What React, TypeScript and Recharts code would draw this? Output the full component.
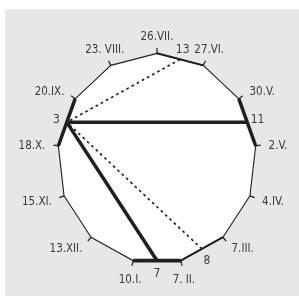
import { PolarAngleAxis, PolarRadiusAxis, Radar, RadarChart } from "recharts"

// corner dates, clockwise from the top
const dates = ["26.VII.", "27.VI.", "30.V.", "2.V.", "4.IV.", "7.III.", "7. II.", "10.I.", "13.XII.", "15.XI.", "18.X.", "20.IX.", "23. VIII."]
// side k runs from dates[k] to dates[k + 1], numbered down from 13
const sideNumbers = [13, 12, 11, 10, 9, 8, 7, 6, 5, 4, 3, 2, 1]
const labelledSides = [13, 11, 8, 7, 3]
const heavySides = [11, 7, 3]
const mediumSides = [13, 8]
const solidChords = [[3, 11], [3, 7]]
const dottedChords = [[3, 13], [3, 8]]

const W = 299
const H = 296
const CX = 157
const CY = 158.5
const R = 99.4
const SY = 1.058
const INK = "#1f1f1f"
const TEXT = "#3b3b3b"
const FONT = "'Liberation Sans Narrow', 'Arial Narrow', 'DejaVu Sans Condensed', sans-serif"
const MID = Math.cos(Math.PI / dates.length)

const rows = dates.flatMap((date, k) => {
  const side = sideNumbers[k]
  const vertex: Record<string, any> = { slot: `v${k}`, text: date, kind: "vertex", rim: 1 }
  const middle: Record<string, any> = {
    slot: `s${side}`,
    text: labelledSides.includes(side) ? String(side) : "",
    kind: "side",
    rim: MID,
  }
  for (const n of [...heavySides, ...mediumSides]) {
    const first = sideNumbers.indexOf(n)
    if (k === first || k === (first + 1) % dates.length) vertex[`side${n}`] = 1
  }
  for (const [a, b] of [...solidChords, ...dottedChords]) {
    if (side === a || side === b) middle[`chord${a}_${b}`] = MID
  }
  return [vertex, middle]
})

const rowBySlot: Record<string, any> = Object.fromEntries(rows.map((r) => [r.slot, r]))

// draws only the points that carry a value, as an open path
const segment = (key: string, width: number, dash?: string) => (props: any) => {
  const pts = (props.points ?? []).filter(
    (p: any) => p.payload && p.payload[key] != null && Number.isFinite(p.x) && Number.isFinite(p.y),
  )
  if (pts.length < 2) return <g />
  const d = pts.map((p: any, i: number) => `${i ? "L" : "M"}${p.x},${p.y}`).join("")
  return <path d={d} fill="none" stroke={INK} strokeWidth={width} strokeDasharray={dash} />
}

function RimTick(props: any) {
  const row = rowBySlot[props.payload.value]
  if (!row) return null
  const a = (-props.payload.coordinate * Math.PI) / 180
  const ux = Math.cos(a)
  const uy = Math.sin(a)
  if (row.kind === "side") {
    if (!row.text) return null
    const r = R * MID + 11
    return (
      <text x={CX + ux * r} y={CY + uy * r} dy="0.36em" textAnchor="middle" fontSize={12} fontFamily={FONT} fill={TEXT}>
        {row.text}
      </text>
    )
  }
  const r = R + 13
  const anchor = ux > 0.6 ? "start" : ux < -0.6 ? "end" : "middle"
  const dy = uy < -0.8 ? "0" : uy > 0.8 ? "0.72em" : "0.36em"
  return (
    <g>
      <line x1={CX + ux * R} y1={CY + uy * R} x2={CX + ux * (R + 5)} y2={CY + uy * (R + 5)} stroke={INK} strokeWidth={1.2} />
      <text x={CX + ux * r} y={CY + uy * r} dy={dy} textAnchor={anchor} fontSize={11.5} fontFamily={FONT} fill={TEXT}>
        {row.text}
      </text>
    </g>
  )
}

export default function App() {
  return (
    <div style={{ position: "fixed", left: 0, top: 0, width: W, height: H, background: "#fff" }}>
      <div style={{ position: "absolute", left: 5, top: 9, right: 0, bottom: 0, background: "#e6e7e8" }} />
      <div style={{ position: "absolute", left: 0, top: 0, transform: `scaleY(${SY})`, transformOrigin: `0 ${CY}px` }}>
        <RadarChart
          width={W}
          height={H}
          data={rows}
          cx={CX}
          cy={CY}
          outerRadius={R}
          margin={{ top: 0, right: 0, bottom: 0, left: 0 }}
        >
          <PolarAngleAxis dataKey="slot" tick={RimTick} tickLine={false} axisLine={false} />
          <PolarRadiusAxis domain={[0, 1]} tick={false} axisLine={false} />
          <Radar dataKey="rim" stroke={INK} strokeWidth={1.1} fill="#fff" fillOpacity={1} isAnimationActive={false} />
          {mediumSides.map((n) => (
            <Radar key={`m${n}`} dataKey={`side${n}`} shape={segment(`side${n}`, 1.9)} isAnimationActive={false} />
          ))}
          {heavySides.map((n) => (
            <Radar key={`h${n}`} dataKey={`side${n}`} shape={segment(`side${n}`, 3.4)} isAnimationActive={false} />
          ))}
          {dottedChords.map(([a, b]) => (
            <Radar
              key={`d${a}_${b}`}
              dataKey={`chord${a}_${b}`}
              shape={segment(`chord${a}_${b}`, 1.6, "2.6 3.2")}
              isAnimationActive={false}
            />
          ))}
          {solidChords.map(([a, b]) => (
            <Radar
              key={`c${a}_${b}`}
              dataKey={`chord${a}_${b}`}
              shape={segment(`chord${a}_${b}`, 3.4)}
              isAnimationActive={false}
            />
          ))}
        </RadarChart>
      </div>
    </div>
  )
}
